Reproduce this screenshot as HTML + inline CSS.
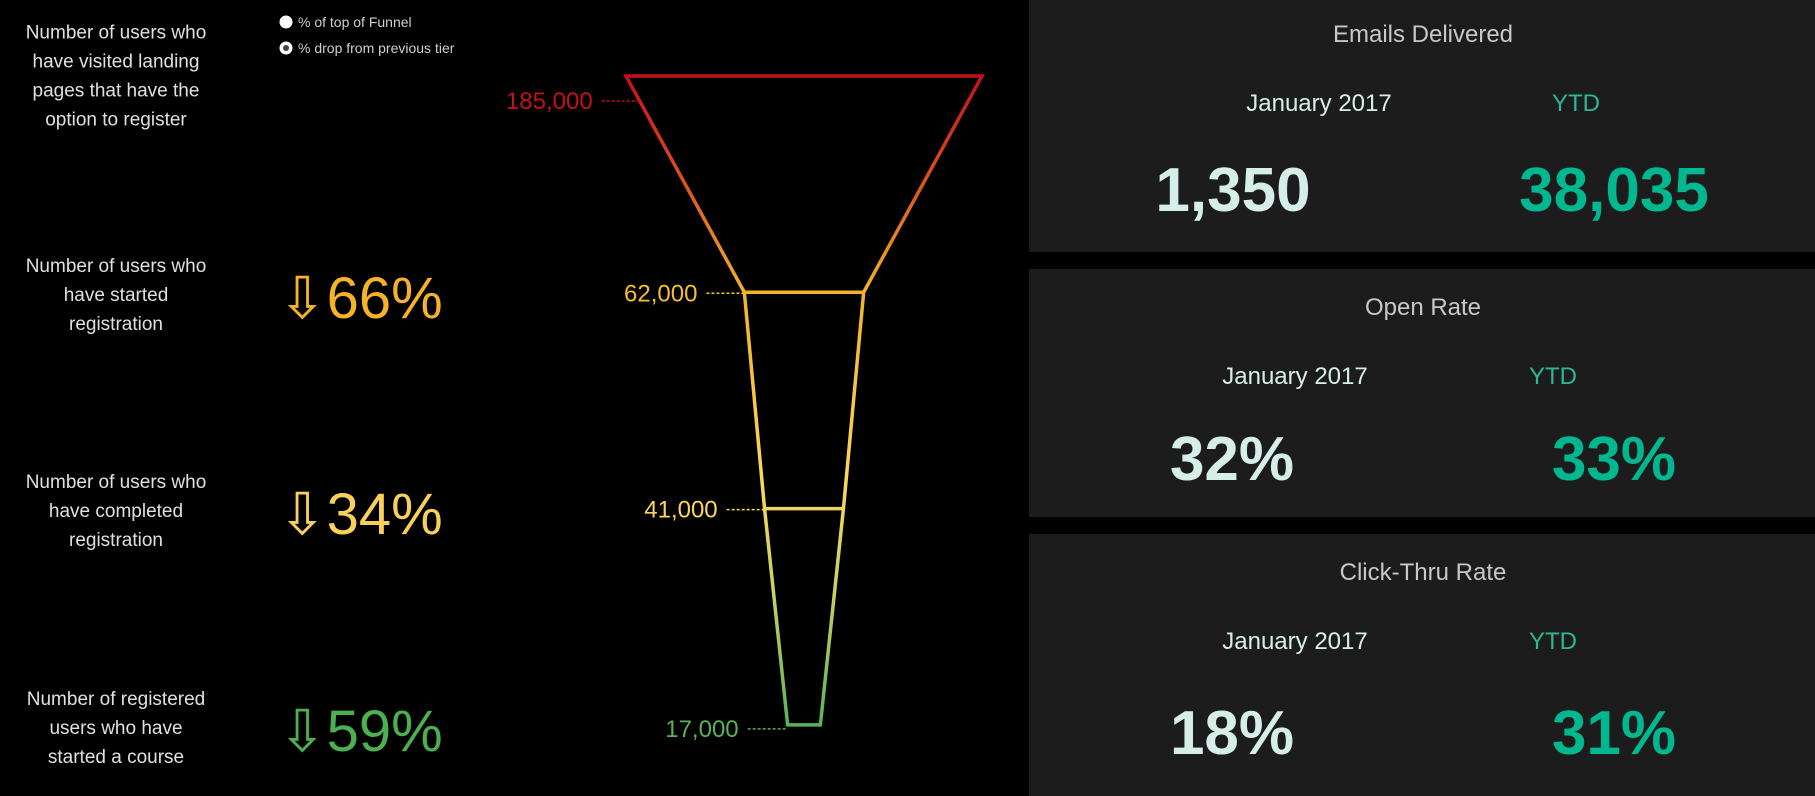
<!DOCTYPE html>
<html><head><meta charset="utf-8"><style>
html,body{margin:0;padding:0;background:#000;width:1815px;height:796px;overflow:hidden;font-family:"Liberation Sans",sans-serif}
svg{position:absolute;left:0;top:0}
</style></head><body>
<svg width="1815" height="796">
<defs>
<linearGradient id="fg" gradientUnits="userSpaceOnUse" x1="0" y1="76" x2="0" y2="725">
<stop offset="0" stop-color="#c4101c"/>
<stop offset="0.18" stop-color="#de5a1e"/>
<stop offset="0.33" stop-color="#f2b22a"/>
<stop offset="0.62" stop-color="#fbd85a"/>
<stop offset="0.8" stop-color="#c9cf63"/>
<stop offset="1" stop-color="#58b35a"/>
</linearGradient>
</defs>
<g>
<circle cx="286" cy="22" r="6.5" fill="#fff"/>
<text x="298" y="27" font-size="14" fill="#cfcfcf">% of top of Funnel</text>
<circle cx="286" cy="48" r="6.5" fill="#fff"/>
<circle cx="286" cy="48" r="3" fill="#444"/>
<text x="298" y="53" font-size="14" fill="#cfcfcf">% drop from previous tier</text>
</g>
<g id="left"></g>
<g id="funnel"></g>
<g>
<rect x="1029" y="0" width="786" height="252" fill="#1c1c1c"/>
<rect x="1029" y="269" width="786" height="248" fill="#1c1c1c"/>
<rect x="1029" y="534" width="786" height="262" fill="#1c1c1c"/>
<g text-anchor="middle">
<text x="1423" y="42" font-size="24" fill="#c8c8c8">Emails Delivered</text>
<text x="1319" y="111" font-size="24" fill="#d8efea">January 2017</text>
<text x="1576" y="111" font-size="24" fill="#2db894">YTD</text>
<text x="1233" y="211" font-size="62" font-weight="bold" fill="#d5eee8">1,350</text>
<text x="1614" y="211" font-size="62" font-weight="bold" fill="#00b890">38,035</text>

<text x="1423" y="315" font-size="24" fill="#c8c8c8">Open Rate</text>
<text x="1295" y="384" font-size="24" fill="#d8efea">January 2017</text>
<text x="1553" y="384" font-size="24" fill="#2db894">YTD</text>
<text x="1232" y="480" font-size="62" font-weight="bold" fill="#d5eee8">32%</text>
<text x="1614" y="480" font-size="62" font-weight="bold" fill="#00b890">33%</text>

<text x="1423" y="580" font-size="24" fill="#c8c8c8">Click-Thru Rate</text>
<text x="1295" y="649" font-size="24" fill="#d8efea">January 2017</text>
<text x="1553" y="649" font-size="24" fill="#2db894">YTD</text>
<text x="1232" y="754" font-size="62" font-weight="bold" fill="#d5eee8">18%</text>
<text x="1614" y="754" font-size="62" font-weight="bold" fill="#00b890">31%</text>
</g>
</g>
</svg>
<script>
const stages = [
 ["Number of users who","have visited landing","pages that have the","option to register"],
 ["Number of users who","have started","registration"],
 ["Number of users who","have completed","registration"],
 ["Number of registered","users who have","started a course"]
];
const values = [185000, 62000, 41000, 17000];
const valueLabels = ["185,000","62,000","41,000","17,000"];
const dropPct = [null, 66, 34, 59];
const labelColors = ["#c4101c","#f5c02e","#fbd85a","#58b35a"];
const pctColors = [null,"#f5b325","#f8d05a","#4caf50"];

const NS="http://www.w3.org/2000/svg";
const cx=804, topY=76, stepY=216.3, wScale=356/185000;
const yOf=i=>topY+i*stepY;
const hw=v=>v*wScale/2;
function mk(tag,attrs,parent){const e=document.createElementNS(NS,tag);for(const k in attrs)e.setAttribute(k,attrs[k]);parent.appendChild(e);return e;}
const left=document.getElementById('left'), fun=document.getElementById('funnel');

const textCenters=[75,294,510,727];
stages.forEach((lines,i)=>{
 const t=mk('text',{x:116,'text-anchor':'middle','font-size':19,fill:'#e0e0e0'},left);
 
 
 const y0=textCenters[i]-(lines.length-1)*29/2+7;
 lines.forEach((l,j)=>{const s=mk('tspan',{x:116,y:y0+j*29},t);s.textContent=l;});
 if(dropPct[i]!==null){
  const p=mk('text',{x:278,y:textCenters[i]+24,'font-size':58,fill:pctColors[i]},left);
  
  
  p.textContent='\u21E9'+dropPct[i]+'%';
 }
});

// funnel outline
let pts=[];
values.forEach((v,i)=>pts.push([cx-hw(v),yOf(i)]));
for(let i=values.length-1;i>=0;i--)pts.push([cx+hw(values[i]),yOf(i)]);
const poly=mk('polygon',{points:pts.map(p=>p.join(',')).join(' '),fill:'none',stroke:'url(#fg)','stroke-width':3.5,'stroke-linejoin':'miter'},fun);


values.forEach((v,i)=>{
 if(i>0&&i<values.length-1){
  const l=mk('line',{x1:cx-hw(v),x2:cx+hw(v),y1:yOf(i),y2:yOf(i),stroke:'url(#fg)','stroke-width':3.5},fun);
  
  
 }
 const off=(i===0?25:(i===3?4:1));
 const ly=yOf(i)+off;
 let lx=cx-hw(v)-2;
 if(i<values.length-1){lx=cx-hw(v)+(hw(v)-hw(values[i+1]))*off/stepY;}
 const d=mk('line',{x1:lx-38,x2:lx,y1:ly,y2:ly,stroke:labelColors[i],'stroke-width':1.5,'stroke-dasharray':'3,2'},fun);
 
 
 const t=mk('text',{x:lx-47,y:ly+8,'text-anchor':'end','font-size':24,fill:labelColors[i]},fun);
 
 
 t.textContent=valueLabels[i];
});
</script>
</body></html>
